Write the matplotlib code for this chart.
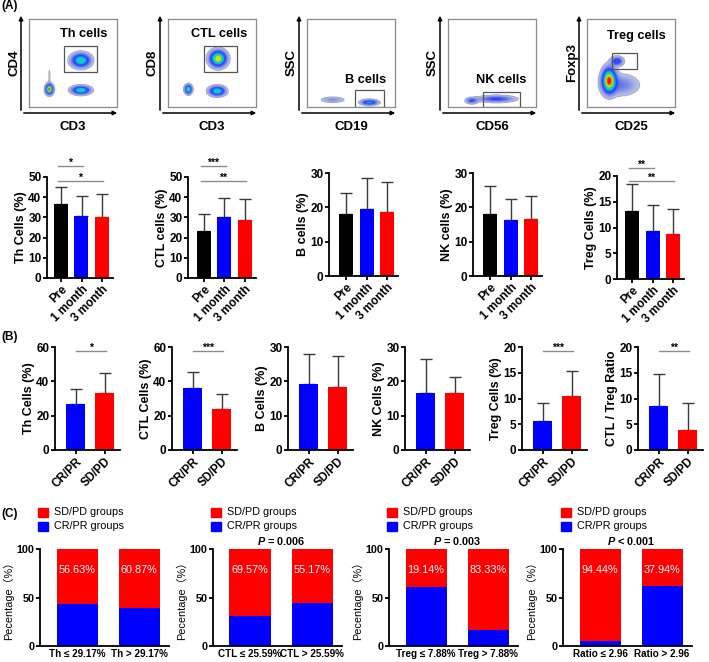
import numpy as np
import matplotlib
matplotlib.use("Agg")
import matplotlib.pyplot as plt
from matplotlib.colors import LinearSegmentedColormap
from matplotlib.patches import FancyArrowPatch, Rectangle

plt.rcParams["font.family"] = ["Liberation Sans", "DejaVu Sans", "Noto Sans CJK SC"]
plt.rcParams["mathtext.fontset"] = "custom"
plt.rcParams["mathtext.it"] = "Liberation Sans:italic:bold"

# ---------------- data ----------------
# (A) flow cytometry gating
flow_xlabels = ["CD3", "CD3", "CD19", "CD56", "CD25"]
flow_ylabels = ["CD4", "CD8", "SSC", "SSC", "Foxp3"]
gate_names = ["Th cells", "CTL cells", "B cells", "NK cells", "Treg cells"]
# gate boxes (x0, y0, x1, y1) in axes fraction
gate_boxes = [(0.40, 0.40, 0.77, 0.69), (0.41, 0.40, 0.78, 0.69),
              (0.54, 0.00, 0.87, 0.19), (0.40, 0.00, 0.815, 0.17),
              (0.28, 0.43, 0.57, 0.61)]
gate_label_pos = [(0.62, 0.83), (0.58, 0.83), (0.67, 0.31), (0.60, 0.31), (0.56, 0.81)]
# cell populations: (cx, cy, sx, sy, density)
populations = [
    [(0.59, 0.53, 0.062, 0.045, 0.62), (0.23, 0.20, 0.024, 0.032, 1.0),
     (0.59, 0.19, 0.060, 0.027, 0.62), (0.23, 0.34, 0.008, 0.08, 0.05)],
    [(0.57, 0.55, 0.054, 0.052, 0.85), (0.23, 0.20, 0.023, 0.029, 0.70),
     (0.56, 0.18, 0.052, 0.031, 0.62)],
    [(0.29, 0.08, 0.080, 0.020, 0.12), (0.71, 0.05, 0.055, 0.018, 0.45)],
    [(0.27, 0.07, 0.040, 0.020, 0.25), (0.55, 0.09, 0.120, 0.022, 0.28)],
    [(0.25, 0.30, 0.045, 0.080, 1.0), (0.38, 0.25, 0.120, 0.070, 0.16),
     (0.34, 0.52, 0.040, 0.030, 0.35)],
]

# (A) bar charts, time course
timepoints = ["Pre", "1 month", "3 month"]
th_time = [36.4, 30.8, 30.3]
th_time_sd = [8.7, 9.7, 11.2]
ctl_time = [23.3, 30.3, 28.8]
ctl_time_sd = [8.2, 9.1, 10.3]
b_time = [18.0, 19.6, 18.5]
b_time_sd = [6.3, 9.0, 9.0]
nk_time = [18.0, 16.2, 16.6]
nk_time_sd = [8.3, 6.1, 6.6]
treg_time = [13.2, 9.4, 8.8]
treg_time_sd = [5.3, 5.0, 4.7]

# (B) bar charts, response groups
groups = ["CR/PR", "SD/PD"]
th_resp = [26.6, 33.2]
th_resp_sd = [8.9, 11.6]
ctl_resp = [36.0, 24.0]
ctl_resp_sd = [9.4, 8.6]
b_resp = [19.2, 18.3]
b_resp_sd = [8.7, 9.2]
nk_resp = [16.6, 16.6]
nk_resp_sd = [9.9, 4.8]
treg_resp = [5.7, 10.4]
treg_resp_sd = [3.5, 4.9]
ratio_resp = [8.6, 3.9]
ratio_resp_sd = [6.2, 5.3]

# (C) stacked percentages
c_xlabels = [["Th \u2264 29.17%", "Th > 29.17%"], ["CTL \u2264 25.59%", "CTL > 25.59%"],
             ["Treg \u2264 7.88%", "Treg > 7.88%"], ["Ratio \u2264 2.96", "Ratio > 2.96"]]
crpr_pct = [[43.37, 39.13], [30.43, 44.83], [60.86, 16.67], [5.56, 62.06]]
sdpd_labels = [["56.63%", "60.87%"], ["69.57%", "55.17%"], ["19.14%", "83.33%"], ["94.44%", "37.94%"]]
p_values = [None, "= 0.006", "= 0.003", "< 0.001"]

BLACK, BLUE, RED = "#000000", "#0000ff", "#ff0000"

W, H = 709, 662
fig = plt.figure(figsize=(W / 100, H / 100), dpi=100)


def px_axes(left, top, right, bottom):
    return fig.add_axes([left / W, 1 - bottom / H, (right - left) / W, (bottom - top) / H])


def fx(x):
    return x / W


def fy(y):
    return 1 - y / H


# panel letters
for lab, y in [("(A)", 6.5), ("(B)", 337.5), ("(C)", 514)]:
    fig.text(fx(1), fy(y), lab, fontsize=8.5, fontweight="bold", va="center", ha="left")

# ---------------- (A) flow plots ----------------
flow_cmap = LinearSegmentedColormap.from_list(
    "flow", [(0.0, "#cdd5f3"), (0.12, "#7f8ee0"), (0.28, "#2636ff"), (0.48, "#00c8ff"),
             (0.64, "#28d850"), (0.80, "#f2ee00"), (1.0, "#ff1400")])
grid = np.linspace(0, 1, 200)
GX, GY = np.meshgrid(grid, grid)

flow_lefts = [29, 168, 307, 448, 587]
for i, left in enumerate(flow_lefts):
    right, top, bottom = left + 88, 19, 107
    ax = px_axes(left, top, right, bottom)
    Z = np.zeros_like(GX)
    for cx, cy, sx, sy, w in populations[i]:
        Z += w * np.exp(-((GX - cx) ** 2 / (2 * sx ** 2) + (GY - cy) ** 2 / (2 * sy ** 2)))
    Z = np.ma.masked_less(np.clip(Z, 0, 1), 0.03)
    ax.imshow(Z, origin="lower", extent=(0, 1, 0, 1), cmap=flow_cmap, vmin=0, vmax=1,
              interpolation="bilinear", aspect="auto")
    x0, y0, x1, y1 = gate_boxes[i]
    ax.add_patch(Rectangle((x0, y0), x1 - x0, y1 - y0, fill=False, ec="#555555", lw=0.9))
    gx, gy = gate_label_pos[i]
    ax.text(gx, gy, gate_names[i], ha="center", va="center", fontsize=9.2, fontweight="bold")
    ax.set_xlim(0, 1)
    ax.set_ylim(0, 1)
    ax.set_xticks([])
    ax.set_yticks([])
    for s in ax.spines.values():
        s.set_color("#8a8a8a")
        s.set_linewidth(0.9)
    # axis arrows
    ax_x, ax_y = left - 8, bottom + 6
    fig.add_artist(FancyArrowPatch((fx(ax_x), fy(ax_y)), (fx(ax_x), fy(top - 6)),
                                   transform=fig.transFigure, arrowstyle="-|>",
                                   mutation_scale=6, lw=1.1, color="black"))
    fig.add_artist(FancyArrowPatch((fx(ax_x), fy(ax_y)), (fx(right + 3), fy(ax_y)),
                                   transform=fig.transFigure, arrowstyle="-|>",
                                   mutation_scale=6, lw=1.1, color="black"))
    fig.text(fx((left + right) / 2), fy(127), flow_xlabels[i], ha="center", va="center",
             fontsize=9.5, fontweight="bold")
    fig.text(fx(left - 15), fy((top + bottom) / 2), flow_ylabels[i], ha="center", va="center",
             rotation=90, fontsize=9.5, fontweight="bold")


# ---------------- bar helpers ----------------
def style_axes(ax, fs=8.5):
    for s in ["top", "right"]:
        ax.spines[s].set_visible(False)
    for s in ["left", "bottom"]:
        ax.spines[s].set_linewidth(1.3)
    ax.tick_params(width=1.3, length=3, labelsize=fs, pad=1)
    for t in ax.get_yticklabels() + ax.get_xticklabels():
        t.set_fontweight("bold")


def bar_panel(left, top, bottom, first_off, spacing, width_px, right_pad, means, sds,
              colors, yticks, ylabel, xlabels, sigs, cap=4):
    n = len(means)
    unit = spacing
    right = left + first_off + spacing * (n - 1) + right_pad
    ax = px_axes(left, top, right, bottom)
    x = np.arange(n)
    ax.errorbar(x, means, yerr=[np.zeros(n), sds], fmt="none", ecolor="#3a3a3a",
                elinewidth=1.0, capsize=cap, capthick=1.0, zorder=1)
    ax.bar(x, means, width=width_px / unit, color=colors, zorder=2)
    ax.set_xlim(-first_off / unit, (n - 1) + right_pad / unit)
    ax.set_ylim(0, yticks[-1])
    ax.set_yticks(yticks)
    ax.set_xticks(x)
    ax.set_xticklabels(xlabels, rotation=45, ha="right", rotation_mode="anchor")
    ax.set_ylabel(ylabel, fontsize=9, fontweight="bold", labelpad=1)
    style_axes(ax)
    for i0, i1, stars, yv in sigs:
        ax.plot([i0 - 0.15, i1 + 0.05], [yv, yv], color="#8c8c8c", lw=1.0, clip_on=False)
        ax.annotate(stars, ((i0 - 0.15 + i1 + 0.05) / 2, yv), xytext=(0, -1.5),
                    textcoords="offset points", ha="center", va="bottom",
                    fontsize=7.5, fontweight="bold", annotation_clip=False)
    return ax


time_colors = [BLACK, BLUE, RED]
bar_panel(47, 177, 278, 14, 20.5, 14, 11, th_time, th_time_sd, time_colors,
          [0, 10, 20, 30, 40, 50], "Th Cells (%)", timepoints,
          [(0, 1, "*", 55.4), (0, 2, "*", 48.0)])
bar_panel(188, 177, 278, 16, 20.5, 14, 11, ctl_time, ctl_time_sd, time_colors,
          [0, 10, 20, 30, 40, 50], "CTL cells (%)", timepoints,
          [(0, 1, "***", 55.4), (0, 2, "**", 48.0)])
bar_panel(329, 173, 276, 17, 20.5, 14, 11, b_time, b_time_sd, time_colors,
          [0, 10, 20, 30], "B cells (%)", timepoints, [])
bar_panel(473, 173, 276, 17, 20.5, 14, 11, nk_time, nk_time_sd, time_colors,
          [0, 10, 20, 30], "NK cells (%)", timepoints, [])
bar_panel(617, 176, 279, 15, 20.5, 14, 11, treg_time, treg_time_sd, time_colors,
          [0, 5, 10, 15, 20], "Treg Cells (%)", timepoints,
          [(0, 1, "**", 21.6), (0, 2, "**", 19.1)])

# ---------------- (B) ----------------
resp_colors = [BLUE, RED]
b_specs = [
    (55, th_resp, th_resp_sd, [0, 20, 40, 60], "Th Cells (%)", "*", 57.7),
    (172, ctl_resp, ctl_resp_sd, [0, 20, 40, 60], "CTL Cells (%)", "***", 57.7),
    (288, b_resp, b_resp_sd, [0, 10, 20, 30], "B Cells (%)", None, None),
    (405, nk_resp, nk_resp_sd, [0, 10, 20, 30], "NK Cells (%)", None, None),
    (522, treg_resp, treg_resp_sd, [0, 5, 10, 15, 20], "Treg Cells (%)", "***", 19.3),
    (638, ratio_resp, ratio_resp_sd, [0, 5, 10, 15, 20], "CTL / Treg Ratio", "**", 19.3),
]
for left, m, sd, yt, yl, stars, ys in b_specs:
    sigs = [(0.15, 1, stars, ys)] if stars else []
    bar_panel(left, 347, 450, 20.5, 29, 19.5, 15, m, sd, resp_colors, yt, yl, groups, sigs)

# ---------------- (C) ----------------
c_lefts = [40, 213, 389, 563]
for k, left in enumerate(c_lefts):
    off, spacing, wpx = 37, 62, 41
    right = left + off + spacing + 30
    ax = px_axes(left, 549, right, 646)
    x = np.arange(2)
    blue = np.array(crpr_pct[k])
    ax.bar(x, blue, width=wpx / spacing, color=BLUE)
    ax.bar(x, 100 - blue, bottom=blue, width=wpx / spacing, color=RED)
    for xi, lab in zip(x, sdpd_labels[k]):
        ax.text(xi, 78, lab, color="white", ha="center", va="center", fontsize=7.8)
    ax.set_xlim(-off / spacing, 1 + 30 / spacing)
    ax.set_ylim(0, 100)
    ax.set_yticks([0, 50, 100])
    ax.set_xticks(x)
    ax.set_xticklabels(c_xlabels[k])
    ax.set_ylabel("Pecentage\uff08%\uff09", fontsize=7.8, labelpad=2,
                  family=["Liberation Sans", "Noto Sans CJK SC"])
    style_axes(ax, fs=7.8)
    ax.tick_params(axis="x", length=0, pad=2, labelsize=7.1)
    if p_values[k]:
        ax.text(0.5, 102, "$P$ " + p_values[k], ha="center", va="bottom",
                fontsize=7.8, fontweight="bold")
    # legend
    for j, (col, txt) in enumerate([(RED, "SD/PD groups"), (BLUE, "CR/PR groups")]):
        yc = 512 + 14 * j
        fig.add_artist(Rectangle((fx(left - 2), fy(yc + 4.5)), 10 / W, 9 / H,
                                 transform=fig.transFigure, color=col))
        fig.text(fx(left + 14), fy(yc), txt, fontsize=7.8, va="center", ha="left")

fig.savefig("out.png", dpi=100)
